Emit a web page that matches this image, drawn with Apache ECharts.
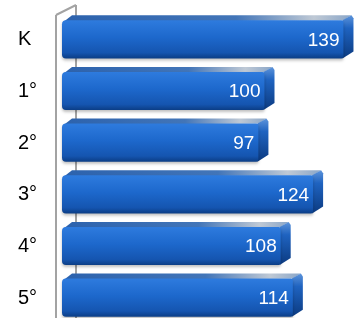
<!DOCTYPE html>
<html>
<head>
<meta charset="utf-8">
<script src="https://cdn.jsdelivr.net/npm/echarts@6/dist/echarts.min.js"></script>
<style>
  html, body { margin: 0; padding: 0; background: #fff; }
  #chart { width: 360px; height: 318px; }
</style>
</head>
<body>
<div id="chart"></div>
<script>
var categories = ['K', '1°', '2°', '3°', '4°', '5°'];
var values = [139, 100, 97, 124, 108, 114];
var xMax = 140;

var DX = 10, DY = 5;   // depth of the 3d bars

function renderBar(params, api) {
    var v = api.value(0), c = api.value(1);
    var start = api.coord([0, c]);
    var end = api.coord([v, c]);
    var h = api.size([0, 1])[1] * 0.74;
    var x0 = start[0], x1 = end[0];
    var y0 = start[1] - h / 2 - 0.5, y1 = y0 + h;
    var r = 4;
    return {
        type: 'group',
        children: [
            // top face
            {
                type: 'polygon',
                shape: { points: [[x0 + 1, y0 + 2], [x0 + DX, y0 - DY], [x1 + DX - 2, y0 - DY], [x1, y0]] },
                style: {
                    fill: new echarts.graphic.LinearGradient(0, 0, 1, 0, [
                        { offset: 0, color: '#2c62ad' },
                        { offset: 0.6, color: '#4275b8' },
                        { offset: 0.87, color: '#bfc9d5' },
                        { offset: 1, color: '#8aa6c8' }
                    ])
                }
            },
            // side face
            {
                type: 'polygon',
                shape: { points: [[x1 - 1, y0], [x1 + DX - 2, y0 - DY], [x1 + DX, y0 - DY + 3], [x1 + DX, y1 - DY - 2], [x1 - 1, y1]] },
                style: {
                    fill: new echarts.graphic.LinearGradient(0, 0, 0, 1, [
                        { offset: 0, color: '#5d94db' },
                        { offset: 0.3, color: '#1f63c0' },
                        { offset: 1, color: '#0b3a80' }
                    ])
                }
            },
            // front face
            {
                type: 'rect',
                shape: { x: x0, y: y0, width: x1 - x0, height: h, r: [r, 2, 2, r] },
                style: {
                    fill: new echarts.graphic.LinearGradient(0, 0, 0, 1, [
                        { offset: 0, color: '#2e7bde' },
                        { offset: 0.45, color: '#1d68cc' },
                        { offset: 0.85, color: '#1555b0' },
                        { offset: 1, color: '#0b3d85' }
                    ]),
                    shadowBlur: 3,
                    shadowOffsetY: 2,
                    shadowColor: 'rgba(0,0,0,0.25)'
                }
            },
            {
                type: 'text',
                style: {
                    x: x1 - 4,
                    y: (y0 + y1) / 2 + 1,
                    text: String(v),
                    fill: '#ffffff',
                    font: '19px "Liberation Sans", Arial, sans-serif',
                    align: 'right',
                    verticalAlign: 'middle'
                }
            }
        ]
    };
}

function renderWall(params, api) {
    var cs = params.coordSys;
    var x = cs.x, y = cs.y, bottom = cs.y + cs.height;
    var line = { stroke: '#a3a3a3', lineWidth: 2 };
    return {
        type: 'group',
        children: [
            { type: 'line', shape: { x1: x - 6, y1: y + 1, x2: x - 6, y2: bottom }, style: line },
            { type: 'line', shape: { x1: x + 14, y1: y - 9, x2: x + 14, y2: bottom }, style: line },
            { type: 'line', shape: { x1: x - 6, y1: y + 1, x2: x + 14, y2: y - 9 }, style: line }
        ]
    };
}

var barData = values.map(function (v, i) { return [v, i]; });

var chart = echarts.init(document.getElementById('chart'));
chart.setOption({
    animation: false,
    grid: { left: 62, right: 14.5, top: 14, height: 310, outerBoundsMode: 'none' },
    xAxis: {
        type: 'value', min: 0, max: xMax,
        show: false
    },
    yAxis: {
        type: 'category',
        data: categories,
        inverse: true,
        axisLine: { show: false },
        axisTick: { show: false },
        axisLabel: {
            align: 'left',
            margin: 44,
            fontSize: 20,
            color: '#000',
            fontFamily: '"Liberation Sans", Arial, sans-serif'
        }
    },
    series: [
        {
            type: 'custom',
            renderItem: renderWall,
            data: [[0, 0]],
            encode: { x: 0, y: 1 },
            silent: true,
            z: 1
        },
        {
            type: 'custom',
            renderItem: renderBar,
            data: barData,
            encode: { x: 0, y: 1 },
            z: 2
        }
    ]
});
</script>
</body>
</html>
